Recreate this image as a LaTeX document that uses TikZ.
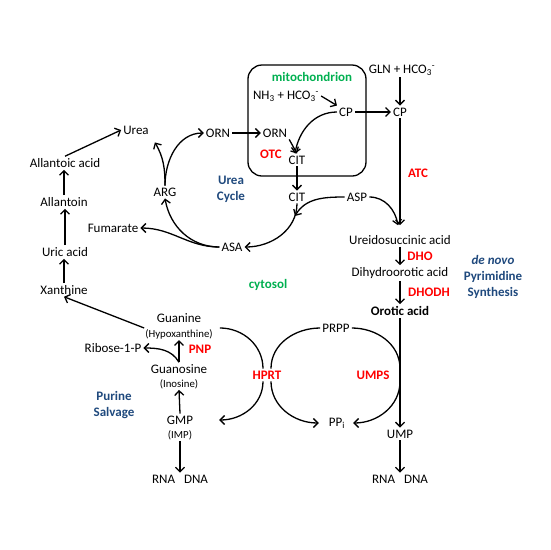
\documentclass[tikz,border=0pt]{standalone}
\usepackage{fontspec}
\setmainfont{Carlito}
\usetikzlibrary{arrows.meta,calc}

\definecolor{enzred}{RGB}{255,0,0}
\definecolor{notegreen}{RGB}{0,176,80}
\definecolor{noteblue}{RGB}{31,73,125}

\newcommand\hco{HCO\textsubscript{3}\textsuperscript{-}}

\tikzset{
    arr/.style={line width=1.3pt, -{Straight Barb[length=4.5pt,width=9pt]}},
    link/.style={line width=1.3pt},
    met/.style={inner sep=2pt, font=\fontsize{13}{15}\selectfont},
    sub/.style={inner sep=1pt, font=\fontsize{10.8}{12}\selectfont},
    enz/.style={inner sep=2pt, text=enzred, font=\fontsize{13}{15}\selectfont\bfseries},
    place/.style={inner sep=2pt, text=notegreen, font=\fontsize{13}{15}\selectfont\bfseries},
    area/.style={align=center, text=noteblue, font=\fontsize{13}{16}\selectfont\bfseries},
}

\begin{document}
\begin{tikzpicture}[x=1pt,y=1pt]
    \useasboundingbox (0,0) rectangle (550,-550);

    \draw [link, rounded corners=14pt] (248,-65) rectangle (366,-176);

    \node [place] (mito) at (312,-77) {mitochondrion};
    \node [place] (cyto) at (268,-285) {cytosol};
    \node [area] (ucyc) at (231,-189) {Urea\\Cycle};
    \node [area] (pyr) at (493,-277) {\textit{de novo}\\Pyrimidine\\Synthesis};
    \node [area] (psal) at (114,-405) {Purine\\Salvage};

    % urea side
    \node [met] (urea) at (136,-130) {Urea};
    \node [met] (allacid) at (65,-163) {Allantoic acid};
    \node [met] (allantoin) at (64,-202) {Allantoin};
    \node [met] (uric) at (65,-252) {Uric acid};
    \node [met] (xan) at (64,-290) {Xanthine};
    \node [met] (fum) at (113,-228) {Fumarate};
    \node [met] (arg) at (165,-192) {ARG};
    \node [met] (ornc) at (218,-133) {ORN};
    \node [met] (ornm) at (275,-133) {ORN};
    \node [met] (nh3) at (286,-96) {NH\textsubscript{3} + \hco};
    \node [met] (cpm) at (346,-112) {CP};
    \node [met] (citm) at (297,-160) {CIT};
    \node [met] (citc) at (297,-197) {CIT};
    \node [met] (asp) at (357,-197) {ASP};
    \node [met] (asa) at (232,-247) {ASA};
    \node [enz] (otc) at (271,-154) {OTC};

    % pyrimidine side
    \node [met] (gln) at (402,-70) {GLN + \hco};
    \node [met] (cpc) at (400,-112) {CP};
    \node [met] (ureido) at (400,-240) {Ureidosuccinic acid};
    \node [met] (dihydro) at (400,-273) {Dihydroorotic acid};
    \node [met, font=\fontsize{13}{15}\selectfont\bfseries] (orotic) at (400,-311) {Orotic acid};
    \node [met] (ump) at (400,-434) {UMP};
    \node [met] (rnar) at (400,-479) {RNA\hspace{9pt}DNA};
    \node [met] (prpp) at (336,-328) {PRPP};
    \node [met] (ppi) at (337,-423) {PP\textsubscript{i}};
    \node [enz] (atc) at (418,-173) {ATC};
    \node [enz] (dho) at (420,-256) {DHO};
    \node [enz] (dhodh) at (429,-292) {DHODH};
    \node [enz] (umps) at (373,-375) {UMPS};

    % purine side
    \node [met] (gua) at (179,-318) {Guanine};
    \node [sub] (hyp) at (179,-334) {(Hypoxanthine)};
    \node [met] (ribose) at (113,-348) {Ribose-1-P};
    \node [met] (guos) at (179,-369) {Guanosine};
    \node [sub] (ino) at (179,-384) {(Inosine)};
    \node [met] (gmp) at (180,-420) {GMP};
    \node [sub] (imp) at (180,-435) {(IMP)};
    \node [met] (rnal) at (180,-479) {RNA\hspace{9pt}DNA};
    \node [enz] (pnp) at (200,-349) {PNP};
    \node [enz] (hprt) at (267,-375) {HPRT};

    \coordinate (citjoin) at (295,-216);

    \draw [arr] (allacid.north) -- (urea.west);
    \draw [arr] (allantoin.north) -- (allantoin.north |- allacid.south);
    \draw [arr] (uric.north) -- (uric.north |- allantoin.south);
    \draw [arr] (xan.north) -- (xan.north |- uric.south);
    \draw [arr] (hyp.north west) -- (xan.south);

    \draw [arr] (arg.north) to [out=90,in=-60] ($(urea.south east)+(4,-6)$);
    \draw [arr] (arg.north) to [out=90,in=180] (ornc.west);
    \draw [arr] (ornc.east) -- (ornm.west);
    \draw [arr] (nh3.east) -- (cpm.north west);
    \draw [arr] (cpm.east) -- (cpc.west);
    \draw [arr] (cpm.west) to [out=180,in=80] ([xshift=-2pt]citm.north);
    \draw [arr] (ornm.south east) -- (citm.north);
    \draw [arr] (citm.south) -- (citc.north);
    \draw [arr] (citc.south) to [out=-90,in=0] (asa.east);
    \draw [arr] (asp.west) to [out=180,in=60] (citjoin);
    \draw [arr] (asa.west) to [out=180,in=0] (fum.east);
    \draw [arr] (asa.west) to [out=180,in=-80] (arg.south);

    \draw [arr] (cpc.north |- gln.south) -- (cpc.north);
    \draw [arr] (cpc.south) -- ([yshift=8pt]ureido.north);
    \draw [arr] (asp.east) to [out=0,in=100] ([xshift=-2pt,yshift=8pt]ureido.north);
    \draw [arr] (ureido.south) -- (dihydro.north);
    \draw [arr] (dihydro.south) -- (orotic.north);
    \draw [arr] (orotic.south) -- (ump.north);
    \draw [arr] (ump.south) -- (rnar.north);

    \draw [link] (prpp.east) to [out=0,in=90] (umps.north -| orotic.south);
    \draw [arr] (umps.south -| orotic.south) to [out=-90,in=0] ([xshift=6pt]ppi.east);

    \draw [arr] (guos.north) -- (hyp.south);
    \draw [arr] (guos.north) to [out=120,in=0] (ribose.east);
    \draw [arr] (gmp.north) -- (ino.south);
    \draw [arr] (imp.south) -- (rnal.north);

    \draw [link] ([xshift=6pt]hyp.north east) to [out=0,in=90] ([xshift=-4pt]hprt.north);
    \draw [arr] ([xshift=-4pt]hprt.south) to [out=-90,in=0] ($(gmp.east)+(24,0)$);
    \draw [link] (prpp.west) to [out=180,in=90] ([xshift=4pt]hprt.north);
    \draw [arr] ([xshift=4pt]hprt.south) to [out=-90,in=180] ([xshift=-8pt]ppi.west);
\end{tikzpicture}
\end{document}
